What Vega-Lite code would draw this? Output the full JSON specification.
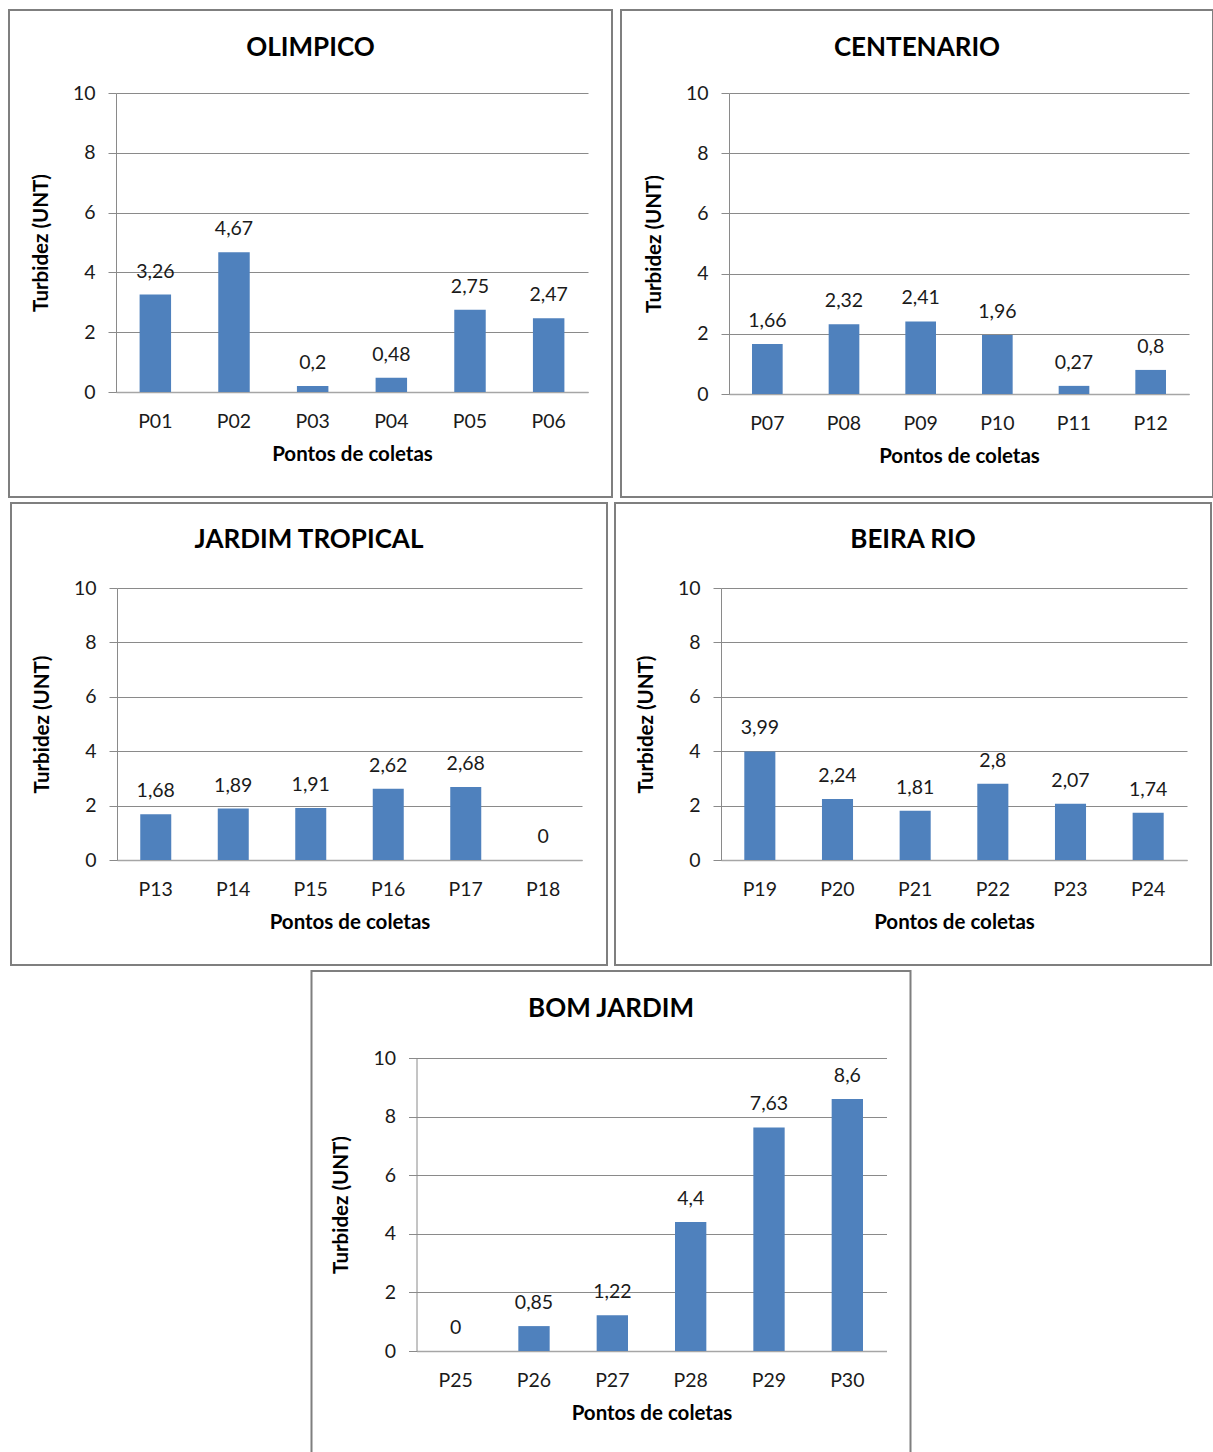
{
  "$schema": "https://vega.github.io/schema/vega-lite/v6.json",
  "padding": {"left": 8, "top": 9, "right": 0, "bottom": 0},
  "autosize": {"type": "pad"},
  "background": "white",
  "config": {
    "view": {"stroke": "#7f7f7f", "strokeWidth": 2},
    "font": "Lato",
    "title": {"font": "Lato", "fontSize": 26, "fontWeight": "bold", "color": "#000000", "baseline": "middle", "anchor": "middle"},
    "axis": {"labelFont": "Lato", "labelFontSize": 19.5, "labelColor": "#1a1a1a", "titleFont": "Lato", "titleFontSize": 20.5, "titleFontWeight": "bold", "titleColor": "#000000"},
    "axisX": {"ticks": false, "labelPadding": 20, "titlePadding": 14, "domainColor": "#a6a6a6", "domainWidth": 1.5, "labelAngle": 0, "grid": false},
    "axisY": {"tickSize": 8, "tickColor": "#8a8a8a", "labelPadding": 13, "titlePadding": 21, "gridColor": "#8a8a8a", "domainColor": "#8a8a8a", "grid": true},
    "bar": {"color": "#4F81BD"},
    "text": {"font": "Lato", "fontSize": 19.5, "color": "#1a1a1a", "baseline": "middle", "dy": -23},
    "locale": {"number": {"decimal": ",", "thousands": ".", "grouping": [3], "currency": ["", " €"]}}
  },
  "datasets": {
    "d": [
      {"bairro": "OLIMPICO", "ponto": "P01", "valor": 3.26},
      {"bairro": "OLIMPICO", "ponto": "P02", "valor": 4.67},
      {"bairro": "OLIMPICO", "ponto": "P03", "valor": 0.2},
      {"bairro": "OLIMPICO", "ponto": "P04", "valor": 0.48},
      {"bairro": "OLIMPICO", "ponto": "P05", "valor": 2.75},
      {"bairro": "OLIMPICO", "ponto": "P06", "valor": 2.47},
      {"bairro": "CENTENARIO", "ponto": "P07", "valor": 1.66},
      {"bairro": "CENTENARIO", "ponto": "P08", "valor": 2.32},
      {"bairro": "CENTENARIO", "ponto": "P09", "valor": 2.41},
      {"bairro": "CENTENARIO", "ponto": "P10", "valor": 1.96},
      {"bairro": "CENTENARIO", "ponto": "P11", "valor": 0.27},
      {"bairro": "CENTENARIO", "ponto": "P12", "valor": 0.8},
      {"bairro": "JARDIM TROPICAL", "ponto": "P13", "valor": 1.68},
      {"bairro": "JARDIM TROPICAL", "ponto": "P14", "valor": 1.89},
      {"bairro": "JARDIM TROPICAL", "ponto": "P15", "valor": 1.91},
      {"bairro": "JARDIM TROPICAL", "ponto": "P16", "valor": 2.62},
      {"bairro": "JARDIM TROPICAL", "ponto": "P17", "valor": 2.68},
      {"bairro": "JARDIM TROPICAL", "ponto": "P18", "valor": 0},
      {"bairro": "BEIRA RIO", "ponto": "P19", "valor": 3.99},
      {"bairro": "BEIRA RIO", "ponto": "P20", "valor": 2.24},
      {"bairro": "BEIRA RIO", "ponto": "P21", "valor": 1.81},
      {"bairro": "BEIRA RIO", "ponto": "P22", "valor": 2.8},
      {"bairro": "BEIRA RIO", "ponto": "P23", "valor": 2.07},
      {"bairro": "BEIRA RIO", "ponto": "P24", "valor": 1.74},
      {"bairro": "BOM JARDIM", "ponto": "P25", "valor": 0},
      {"bairro": "BOM JARDIM", "ponto": "P26", "valor": 0.85},
      {"bairro": "BOM JARDIM", "ponto": "P27", "valor": 1.22},
      {"bairro": "BOM JARDIM", "ponto": "P28", "valor": 4.4},
      {"bairro": "BOM JARDIM", "ponto": "P29", "valor": 7.63},
      {"bairro": "BOM JARDIM", "ponto": "P30", "valor": 8.6}
    ]
  },
  "center": true,
  "spacing": 4,
  "vconcat": [
    {
      "spacing": 7,
      "hconcat": [
        {
          "width": 603, "height": 487,
          "title": {"text": "OLIMPICO", "offset": -51},
          "data": {"name": "d"},
          "transform": [{"filter": "datum.bairro === 'OLIMPICO'"}],
          "encoding": {
            "x": {"field": "ponto", "type": "nominal", "scale": {"range": [107, 579], "paddingInner": 0.6, "paddingOuter": 0.3}, "axis": {"offset": -105, "title": "Pontos de coletas"}},
            "y": {"field": "valor", "type": "quantitative", "scale": {"domain": [0, 10], "range": [382, 83]}, "axis": {"offset": -107, "values": [0, 2, 4, 6, 8, 10], "title": "Turbidez (UNT)"}}
          },
          "layer": [
            {"mark": {"type": "bar"}},
            {"mark": {"type": "text"}, "encoding": {"text": {"field": "valor", "type": "quantitative", "format": "~g"}}}
          ]
        },
        {
          "width": 592, "height": 487,
          "title": {"text": "CENTENARIO", "offset": -51},
          "data": {"name": "d"},
          "transform": [{"filter": "datum.bairro === 'CENTENARIO'"}],
          "encoding": {
            "x": {"field": "ponto", "type": "nominal", "scale": {"range": [108, 568], "paddingInner": 0.6, "paddingOuter": 0.3}, "axis": {"offset": -103, "title": "Pontos de coletas"}},
            "y": {"field": "valor", "type": "quantitative", "scale": {"domain": [0, 10], "range": [384, 83]}, "axis": {"offset": -108, "values": [0, 2, 4, 6, 8, 10], "title": "Turbidez (UNT)"}}
          },
          "layer": [
            {"mark": {"type": "bar"}},
            {"mark": {"type": "text"}, "encoding": {"text": {"field": "valor", "type": "quantitative", "format": "~g"}}}
          ]
        }
      ]
    },
    {
      "spacing": 6,
      "hconcat": [
        {
          "width": 596, "height": 462,
          "title": {"text": "JARDIM TROPICAL", "offset": -50},
          "data": {"name": "d"},
          "transform": [{"filter": "datum.bairro === 'JARDIM TROPICAL'"}],
          "encoding": {
            "x": {"field": "ponto", "type": "nominal", "scale": {"range": [106, 571], "paddingInner": 0.6, "paddingOuter": 0.3}, "axis": {"offset": -105, "title": "Pontos de coletas"}},
            "y": {"field": "valor", "type": "quantitative", "scale": {"domain": [0, 10], "range": [357, 85]}, "axis": {"offset": -106, "values": [0, 2, 4, 6, 8, 10], "title": "Turbidez (UNT)"}}
          },
          "layer": [
            {"mark": {"type": "bar"}},
            {"mark": {"type": "text"}, "encoding": {"text": {"field": "valor", "type": "quantitative", "format": "~g"}}}
          ]
        },
        {
          "width": 596, "height": 462,
          "title": {"text": "BEIRA RIO", "offset": -50},
          "data": {"name": "d"},
          "transform": [{"filter": "datum.bairro === 'BEIRA RIO'"}],
          "encoding": {
            "x": {"field": "ponto", "type": "nominal", "scale": {"range": [106, 572], "paddingInner": 0.6, "paddingOuter": 0.3}, "axis": {"offset": -105, "title": "Pontos de coletas"}},
            "y": {"field": "valor", "type": "quantitative", "scale": {"domain": [0, 10], "range": [357, 85]}, "axis": {"offset": -106, "values": [0, 2, 4, 6, 8, 10], "title": "Turbidez (UNT)"}}
          },
          "layer": [
            {"mark": {"type": "bar"}},
            {"mark": {"type": "text"}, "encoding": {"text": {"field": "valor", "type": "quantitative", "format": "~g"}}}
          ]
        }
      ]
    },
    {
      "width": 599, "height": 490,
      "title": {"text": "BOM JARDIM", "offset": -51},
      "data": {"name": "d"},
      "transform": [{"filter": "datum.bairro === 'BOM JARDIM'"}],
      "encoding": {
        "x": {"field": "ponto", "type": "nominal", "scale": {"range": [105, 575], "paddingInner": 0.6, "paddingOuter": 0.3}, "axis": {"offset": -110, "title": "Pontos de coletas"}},
        "y": {"field": "valor", "type": "quantitative", "scale": {"domain": [0, 10], "range": [380, 87]}, "axis": {"offset": -105, "values": [0, 2, 4, 6, 8, 10], "title": "Turbidez (UNT)"}}
      },
      "layer": [
        {"mark": {"type": "bar"}},
        {"mark": {"type": "text"}, "encoding": {"text": {"field": "valor", "type": "quantitative", "format": "~g"}}}
      ]
    }
  ]
}
